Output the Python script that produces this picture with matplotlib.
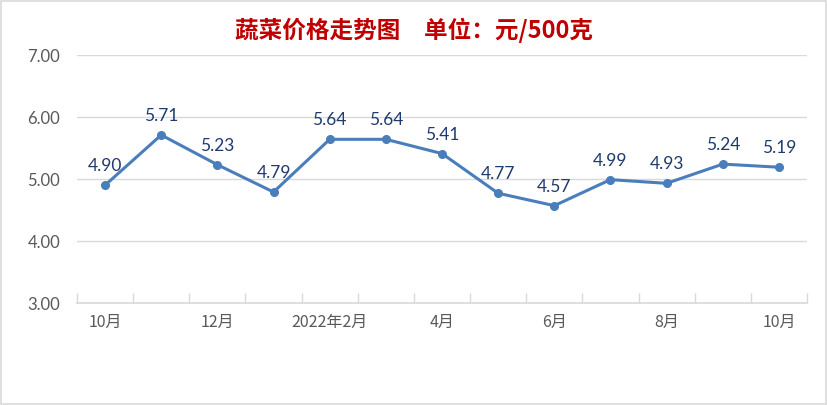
import numpy as np
import matplotlib.pyplot as plt
from matplotlib.patches import Rectangle

plt.rcParams['font.family'] = ['Lato', 'Noto Sans CJK SC', 'DejaVu Sans']

# datos del gráfico
meses = ['10月', '11月', '12月', '2022年1月', '2022年2月', '3月', '4月',
         '5月', '6月', '7月', '8月', '9月', '10月']
precios = [4.90, 5.71, 5.23, 4.79, 5.64, 5.64, 5.41, 4.77, 4.57, 4.99, 4.93, 5.24, 5.19]
y_ticks = [3.00, 4.00, 5.00, 6.00, 7.00]

gris = '#D9D9D9'
azul = '#4A7EBB'

fig = plt.figure(figsize=(8.28, 4.05), dpi=100)
ax = fig.add_axes([77/828, 1-303/405, 730/828, 248/405])

x = np.arange(len(precios))
ax.plot(x, precios, color=azul, lw=2.2, marker='o', ms=5.5, zorder=3)

for xi, v in zip(x, precios):
    ax.annotate(f'{v:.2f}', (xi, v), xytext=(0, 10), textcoords='offset points',
                ha='center', va='baseline', fontsize=12.5, color='#1F3B6E')

ax.set_xlim(-0.5, len(precios) - 0.5)
ax.set_ylim(3, 7)
ax.set_yticks(y_ticks)
ax.set_yticklabels([f'{t:.2f}' for t in y_ticks])
ax.grid(axis='y', color=gris, lw=1)
ax.set_axisbelow(True)

# marcas entre categorías, etiquetas cada dos meses
ax.set_xticks(np.arange(-0.5, len(precios)))
ax.set_xticklabels([])
ax.set_xticks(x[::2], minor=True)
ax.set_xticklabels(meses[::2], minor=True, family=['Noto Sans CJK SC'], fontsize=11.5,
                   color='#595959')
ax.tick_params(axis='x', which='major', direction='in', length=7, color=gris, width=1)
ax.tick_params(axis='x', which='minor', length=0, pad=8)
ax.tick_params(axis='y', length=0, pad=12, labelsize=12, labelcolor='#595959')

for s in ['left', 'right', 'top']:
    ax.spines[s].set_visible(False)
ax.spines['bottom'].set_color(gris)
ax.spines['bottom'].set_linewidth(1.2)

fig.text(0.5, 1-30/405, '蔬菜价格走势图　单位：元/500克', ha='center', va='center',
         fontsize=17, fontweight='bold', color='#C00000',
         family=['Noto Sans CJK SC', 'DejaVu Sans'])

fig.patches.append(Rectangle((0.001, 0.002), 0.997, 0.995, transform=fig.transFigure,
                             fill=False, ec=gris, lw=1.2))

fig.savefig('out.png', dpi=100)
